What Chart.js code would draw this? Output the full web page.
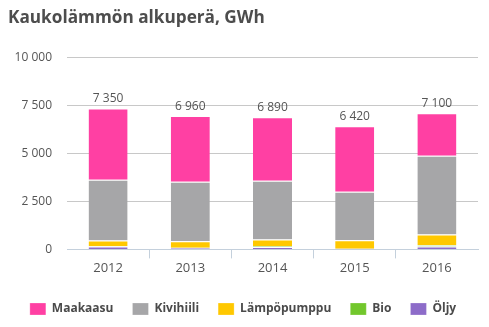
<!DOCTYPE html>
<html>
<head>
<meta charset="utf-8">
<script src="https://cdn.jsdelivr.net/npm/chart.js@4"></script>
<style>
  html, body { margin: 0; padding: 0; background: #fff; }
  #chart { display: block; }
</style>
</head>
<body>
<canvas id="chart" width="489" height="327"></canvas>
<script>
// Kaukolämmön alkuperä vuosittain (GWh)
let years = ["2012", "2013", "2014", "2015", "2016"];
let oljy = [150, 70, 130, 30, 150];
let bio = [20, 20, 30, 10, 70];
let lampopumppu = [300, 340, 360, 440, 560];
let kivihiili = [3160, 3100, 3060, 2530, 4100];
let maakaasu = [3720, 3430, 3310, 3410, 2220];
let yTicks = [0, 2500, 5000, 7500, 10000];

function fmt(n) {
    return String(n).replace(/\B(?=(\d{3})+(?!\d))/g, " ");
}

let totals = years.map((y, i) => oljy[i] + bio[i] + lampopumppu[i] + kivihiili[i] + maakaasu[i]);

// summa pinon yläpuolelle
let totalLabels = {
    id: "totalLabels",
    afterDatasetsDraw(chart) {
        let ctx = chart.ctx;
        let yScale = chart.scales.y;
        let meta = chart.getDatasetMeta(0);
        ctx.save();
        ctx.font = "12px 'Open Sans'";
        ctx.fillStyle = "#555555";
        ctx.textAlign = "center";
        ctx.textBaseline = "alphabetic";
        totals.forEach((t, i) => {
            let x = meta.data[i].x;
            let y = yScale.getPixelForValue(t);
            ctx.fillText(fmt(t), x, y - 6);
        });
        ctx.restore();
    }
};

let ds = (label, data, color) => ({
    label: label,
    data: data,
    backgroundColor: color,
    borderColor: "#ffffff",
    borderWidth: {top: 1, left: 0, right: 0, bottom: 0},
    borderSkipped: false,
    barPercentage: 0.475,
    categoryPercentage: 1
});

let chartContext = document.getElementById("chart").getContext("2d");
let chart = new Chart(chartContext, {
    type: "bar",
    data: {
        labels: years,
        datasets: [
            ds("Öljy", oljy, "#8d6cc9"),
            ds("Bio", bio, "#72c72c"),
            ds("Lämpöpumppu", lampopumppu, "#ffc800"),
            ds("Kivihiili", kivihiili, "#a6a6a8"),
            ds("Maakaasu", maakaasu, "#ff40a3")
        ]
    },
    options: {
        responsive: false,
        animation: false,
        layout: {padding: {left: 8, right: 11, top: 0, bottom: 2}},
        plugins: {
            title: {
                display: true,
                text: "Kaukolämmön alkuperä, GWh",
                align: "start",
                color: "#4d4d4d",
                font: {family: "'Open Sans'", size: 17.2, weight: "bold"},
                padding: {top: 8, bottom: 29}
            },
            legend: {
                position: "bottom",
                reverse: true,
                labels: {
                    boxWidth: 16,
                    boxHeight: 12,
                    padding: 19,
                    color: "#4a4a4a",
                    font: {family: "'Open Sans'", size: 12, weight: "bold"}
                }
            },
            tooltip: {enabled: false}
        },
        scales: {
            x: {
                stacked: true,
                afterFit: scale => {
                    scale.height += 6;
                },
                grid: {
                    offset: true,
                    drawOnChartArea: false,
                    drawTicks: true,
                    tickLength: 9,
                    tickColor: ctx => (ctx.index > 0 ? "#c4d0dc" : "transparent")
                },
                border: {color: "#c4d0dc", width: 1},
                ticks: {
                    color: "#555555",
                    padding: 2,
                    font: {family: "'Open Sans'", size: 13}
                }
            },
            y: {
                stacked: true,
                min: 0,
                max: 10000,
                afterBuildTicks: scale => {
                    scale.ticks = yTicks.map(v => ({value: v}));
                },
                afterFit: scale => {
                    scale.width = 59;
                },
                grid: {
                    drawTicks: false,
                    color: ctx => (ctx.tick && ctx.tick.value === 0 ? "transparent" : "#c8c8c8")
                },
                border: {display: false},
                ticks: {
                    color: "#555555",
                    padding: 15,
                    font: {family: "'Open Sans'", size: 12},
                    callback: v => fmt(v)
                }
            }
        }
    },
    plugins: [totalLabels]
});
</script>
</body>
</html>
